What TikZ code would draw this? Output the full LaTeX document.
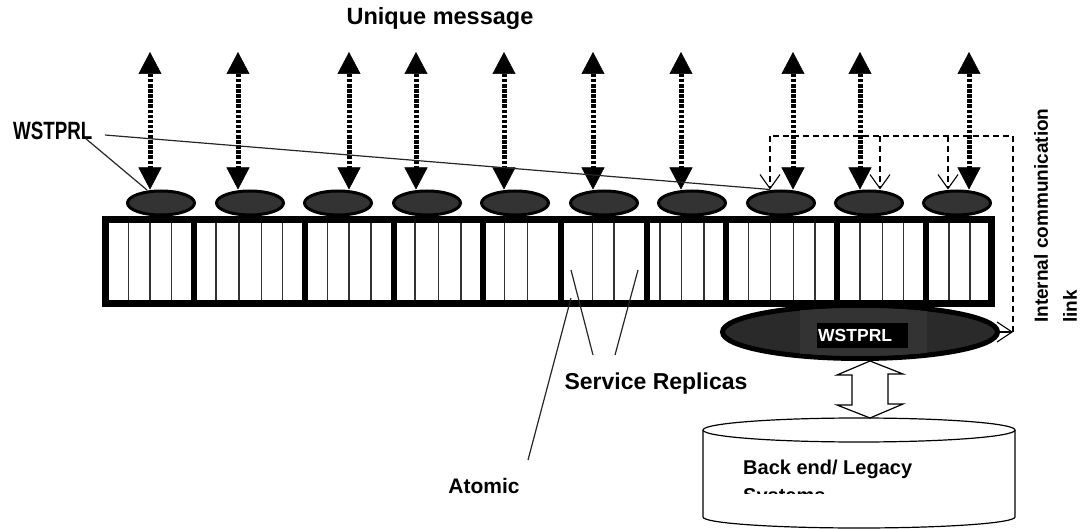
\documentclass[tikz,border=0pt]{standalone}
\usepackage{fontspec}
\setmainfont{Liberation Sans}
\usepackage{graphicx}
\usetikzlibrary{arrows.meta,shapes.geometric,calc}
\definecolor{dk}{HTML}{333333}
\definecolor{dkk}{HTML}{2A2A2A}
\begin{document}
\begin{tikzpicture}[x=1pt,y=-1pt,
  smell/.style={ellipse, draw=black, line width=3pt, fill=dk, minimum width=67pt, minimum height=24pt, inner sep=0pt},
  msg/.style={line width=5pt, dash pattern=on 3.5pt off 1.6pt,
    {Triangle[length=22pt,width=23pt,line width=0.5pt]}-{Triangle[length=22pt,width=23pt,line width=0.5pt]}},
  icl/.style={line width=1.1pt, dash pattern=on 6pt off 4pt},
  icla/.style={icl, -{Straight Barb[length=14pt,width=20pt,line width=1.1pt]}},
  lead/.style={line width=1.2pt, black!85},
  lbl/.style={font=\bfseries, inner sep=0pt},
  cell/.style={line width=1.3pt, black!80},
  sep/.style={line width=6pt},
]
\useasboundingbox (0,0) rectangle (1082,529);

% big WSTPRL ellipse (under the bar)
\node[ellipse, draw=black, line width=5pt, fill=dkk, minimum width=275pt, minimum height=53pt, inner sep=0pt] (bigE) at (860,332) {};
\begin{scope}
  \clip (860,332) ellipse [x radius=135, y radius=24];
  \fill[dk] (800,300) rectangle (927,362);
\end{scope}
\node[fill=black, text=white, font=\bfseries\fontsize{17.5}{20}\selectfont, anchor=west,
  minimum height=25pt, text width=89pt, inner sep=1pt, align=left] (wtext) at (817,335.5) {WSTPRL};

% bar
\node[draw=black, line width=7pt, fill=white, minimum width=886.5pt, minimum height=84.5pt, inner sep=0pt] (bar) at (548.25,261.75) {};
\foreach \x in {128.3,150,171.7, 216,239,261.7,282.7, 327.7,349,371, 415,438.3,461,
  504.3,527.3, 592.3,614, 660,681.7,704, 748.3,770.7,793.3,815, 860,882.7,903.3, 949,970}
  \draw[cell] (\x,223) -- (\x,300.5);
\foreach \x in {194,305,394,482.5,560.5,646.5,725.5,836.5,926}
  \draw[sep] (\x,222) -- (\x,301);

% small WSTPRL ellipses
\foreach \x [count=\i] in {161,250,338,427,515,604,692,781,869,957}
  \node[smell] (e\i) at (\x,203) {};

% unique message arrows
\foreach \x/\e in {150/1,238/2,349/3,416/4,504/5,593/6,681/7,793/8,860/9,969/10} {
  \coordinate (t\e) at (\x,52);
  \draw[msg] (t\e) -- (t\e |- e\e.north);
}

% internal communication link
\coordinate (cE) at (1013,332);
\coordinate (c0) at (1013,136);
\coordinate (c1) at (770,136);
\draw[line width=1.1pt, -{Straight Barb[length=15pt,width=20pt,line width=1.1pt]}] (bigE.east) -- (cE);
\draw[icl] (cE) -- (c0) -- (c1);
\foreach \x/\e in {770/8,880/9,948/10} {
  \coordinate (d\e) at (\x,136);
  \draw[icla] (d\e) -- (d\e |- e\e.north);
}

% labels
\node[lbl, font=\bfseries\fontsize{23.5}{28}\selectfont] (um) at (440,18) {Unique message};
\node[lbl, font=\bfseries\fontsize{25}{30}\selectfont, anchor=west] (wl) at (13,131) {\scalebox{0.75}[1]{WSTPRL}};
\coordinate (wa) at (85,138);
\coordinate (wb) at (105,135);
\coordinate (w1) at (147,190);
\draw[lead] (wa) -- (w1);
\draw[lead] (wb) -- (d8 |- e8.north);

\node[lbl, font=\bfseries\fontsize{23}{28}\selectfont] (sr) at (656,384) {Service Replicas};
\coordinate (sr1) at (593,355); \coordinate (sr1e) at (571,270);
\coordinate (sr2) at (615,355); \coordinate (sr2e) at (638,270);
\draw[lead] (sr1) -- (sr1e);
\draw[lead] (sr2) -- (sr2e);

\node[lbl, font=\bfseries\fontsize{21}{26}\selectfont] (at) at (484,486) {Atomic};
\coordinate (at1) at (528,460); \coordinate (at2) at (571,298);
\draw[lead] (at1) -- (at2);

\node[lbl, font=\bfseries\fontsize{19}{29}\selectfont, rotate=90, anchor=north west, align=left] (icl) at (1034,323) {Internal communication\\link};

% backend cylinder
\fill[white] (703,430) -- (703,517) arc[start angle=180,end angle=0,x radius=156,y radius=11] -- (1015,430) -- cycle;
\draw[line width=1.2pt] (703,430) -- (703,517) arc[start angle=180,end angle=0,x radius=156,y radius=11] -- (1015,430);
\draw[line width=1.2pt, fill=white] (859,430) ellipse [x radius=156, y radius=12];
\coordinate (db) at (870,418);
\begin{scope}
  \clip (700,444) rectangle (1020,493);
  \node[lbl, font=\bfseries\fontsize{20}{28}\selectfont, anchor=north west, align=left] (dbt) at (743,460) {Back end/ Legacy\\Systems};
\end{scope}

% hollow double arrow
\coordinate (ha) at (bigE.south -| db);
\draw[line width=1.2pt, fill=white, line join=miter] (ha) -- ++(33,13) -- ++(-15,0) -- ++(0,30) -- ++(15,0) -- (db)
  -- ++(-33,-13) -- ++(15,0) -- ++(0,-30) -- ++(-15,0) -- cycle;
\end{tikzpicture}
\end{document}
